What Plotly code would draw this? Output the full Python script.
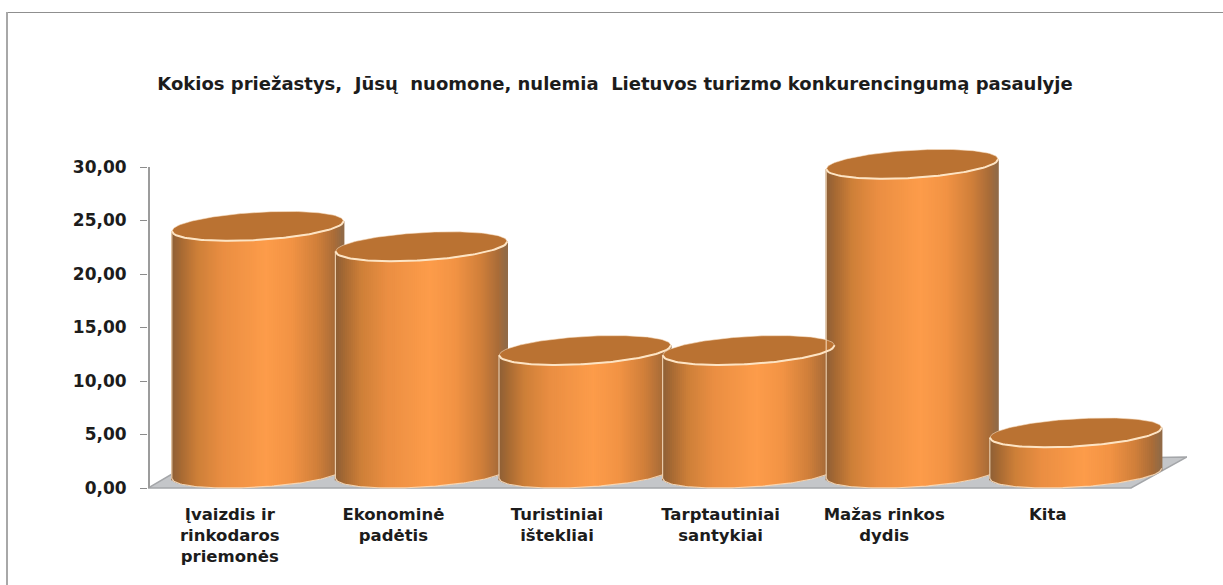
import math
import plotly.graph_objects as go

# Survey shares per reason (percent)
categories = [
    "Įvaizdis ir<br>rinkodaros<br>priemonės",
    "Ekonominė<br>padėtis",
    "Turistiniai<br>ištekliai",
    "Tarptautiniai<br>santykiai",
    "Mažas rinkos<br>dydis",
    "Kita",
]
values = [23.1, 21.2, 11.5, 11.5, 28.9, 3.8]
y_ticks = [0, 5, 10, 15, 20, 25, 30]
title_text = "Kokios priežastys,  Jūsų  nuomone, nulemia  Lietuvos turizmo konkurencingumą pasaulyje"

# Canvas and plot box
WIDTH, HEIGHT = 1223, 585
LEFT, RIGHT, TOP, ZERO_PX, BOTTOM = 148, 1187, 140, 488, 491
CAT_PX = 163.6          # pixels per category
VAL_PX = 10.7           # pixels per value unit
X_MIN = -0.5
X_MAX = X_MIN + (RIGHT - LEFT) / CAT_PX
Y_MAX = (ZERO_PX - TOP) / VAL_PX
Y_MIN = -(BOTTOM - ZERO_PX) / VAL_PX

# Cylinder shape, expressed in axis units
CENTER_SHIFT = 28 / CAT_PX
RX = 86 / CAT_PX
TILT = 5 / VAL_PX
HALF_H = 14.7 / VAL_PX
MINOR = math.sqrt(HALF_H**2 - TILT**2)
SLICE = 2 / CAT_PX

# Horizontal shading across a cylinder wall
SHADE = [
    (0.00, (140, 95, 54)),
    (0.06, (168, 106, 51)),
    (0.15, (205, 127, 56)),
    (0.30, (234, 142, 66)),
    (0.55, (253, 156, 74)),
    (0.70, (242, 147, 68)),
    (0.85, (208, 127, 58)),
    (0.95, (169, 108, 56)),
    (1.00, (143, 106, 72)),
]


def shade(p):
    for (p0, c0), (p1, c1) in zip(SHADE, SHADE[1:]):
        if p <= p1:
            f = (p - p0) / (p1 - p0)
            r, g, b = (round(a + (d - a) * f) for a, d in zip(c0, c1))
            return f"rgb({r},{g},{b})"
    return "rgb(143,106,72)"


def rim(center, v, sign, lo=-1.0, hi=1.0, n=80):
    """Points along one half of a tilted ellipse (sign -1 front, +1 back)."""
    xs, ys = [], []
    for j in range(n + 1):
        u = lo + (hi - lo) * j / n
        xs.append(center + RX * u)
        ys.append(v + TILT * u + sign * MINOR * math.sqrt(max(0.0, 1 - u * u)))
    return xs, ys


fig = go.Figure()
base_c = HALF_H

for i, v in enumerate(values):
    center = i + CENTER_SHIFT
    top_c = v + HALF_H

    # Cylinder wall built from thin vertical bars that overlap their left neighbour
    count = int(2 * RX / SLICE)
    sx, sbase, sh, scol = [], [], [], []
    for s in range(count):
        u = -1 + (s + 0.5) * 2 / count
        bottom = base_c + TILT * u - MINOR * math.sqrt(1 - u * u)
        upper = top_c + TILT * u
        sx.append(center + RX * u)
        sbase.append(bottom)
        sh.append(upper - bottom)
        scol.append(shade((u + 1) / 2))
    fig.add_trace(go.Bar(
        x=sx, y=sh, base=sbase, width=SLICE * 1.6,
        marker=dict(color=scol, opacity=1, line=dict(width=0)),
        hoverinfo="skip", showlegend=False,
    ))

    # Pale edge on the wall: left side and bottom rim, stopping at the next cylinder
    last = i == len(values) - 1
    bx, by = rim(center, base_c, -1, hi=1.0 if last else (1 - RX) / RX)
    fig.add_trace(go.Scatter(
        x=[center - RX] + bx, y=[top_c - TILT] + by, mode="lines",
        line=dict(color="rgba(250,222,190,0.85)", width=1.2),
        hoverinfo="skip", showlegend=False,
    ))

    # Top cap
    fx, fy = rim(center, top_c, -1)
    gx, gy = rim(center, top_c, 1)
    fig.add_trace(go.Scatter(
        x=fx + gx[::-1], y=fy + gy[::-1], mode="lines", fill="toself",
        fillcolor="rgb(186,114,50)", line=dict(color="rgba(250,225,195,0.7)", width=0.8),
        hoverinfo="skip", showlegend=False,
    ))
    fig.add_trace(go.Scatter(
        x=fx, y=fy, mode="lines", line=dict(color="rgb(253,228,196)", width=2),
        hoverinfo="skip", showlegend=False,
    ))

# Floor plane and wall axis line
fx_front = X_MIN + (1131 - LEFT) / CAT_PX
fx_back_l = X_MIN + (172 - LEFT) / CAT_PX
floor_path = (
    f"M {X_MIN} 0 L {fx_front} 0 L {X_MAX} {(ZERO_PX - 457) / VAL_PX} "
    f"L {fx_back_l} {(ZERO_PX - 474) / VAL_PX} Z"
)
axis_x = X_MIN + 1 / CAT_PX
PLOT_H = BOTTOM - TOP
PLOT_W = RIGHT - LEFT
shapes = [
    dict(type="path", path=floor_path, xref="x", yref="y", layer="below",
         fillcolor="#c4c6c9", line=dict(color="#a4a6a9", width=1.5)),
    dict(type="line", xref="x", yref="y", x0=axis_x, x1=axis_x, y0=0, y1=30, layer="below",
         line=dict(color="#9c9c9c", width=2)),
    # Frame: only the top and left edges fall inside the page
    dict(type="line", xref="paper", yref="paper", layer="below",
         x0=(7 - LEFT) / PLOT_W, x1=(WIDTH - LEFT) / PLOT_W,
         y0=(BOTTOM - 12.5) / PLOT_H, y1=(BOTTOM - 12.5) / PLOT_H,
         line=dict(color="#8f8f8f", width=1)),
    dict(type="line", xref="paper", yref="paper", layer="below",
         x0=(7 - LEFT) / PLOT_W, x1=(7 - LEFT) / PLOT_W,
         y0=(BOTTOM - HEIGHT) / PLOT_H, y1=(BOTTOM - 12) / PLOT_H,
         line=dict(color="#a8a8a8", width=2)),
]

TEXT = dict(family="DejaVu Sans", color="#1c1c1c", weight="bold")

fig.update_layout(
    width=WIDTH, height=HEIGHT,
    margin=dict(l=LEFT, r=WIDTH - RIGHT, t=TOP, b=HEIGHT - BOTTOM, pad=0),
    paper_bgcolor="white", plot_bgcolor="white",
    barmode="overlay", showlegend=False, separators=", ",
    shapes=shapes,
    title=dict(text=title_text, x=(615 - LEFT) / PLOT_W, xanchor="center", xref="paper",
               y=1 - 84 / HEIGHT, yanchor="middle", yref="container",
               font=dict(size=18, **TEXT)),
    xaxis=dict(range=[X_MIN, X_MAX], tickmode="array", tickvals=list(range(len(categories))),
               ticktext=categories, showgrid=False, zeroline=False, showline=False,
               ticks="", ticklabelstandoff=11, tickfont=dict(size=16.5, **TEXT)),
    yaxis=dict(range=[Y_MIN, Y_MAX], tickmode="array", tickvals=y_ticks, tickformat=".2f",
               showgrid=False, zeroline=False, showline=False,
               ticks="outside", ticklen=7, tickcolor="#8c8c8c", tickwidth=1,
               ticklabelstandoff=10, tickfont=dict(size=17, **TEXT)),
)

fig.write_html("out.html")
